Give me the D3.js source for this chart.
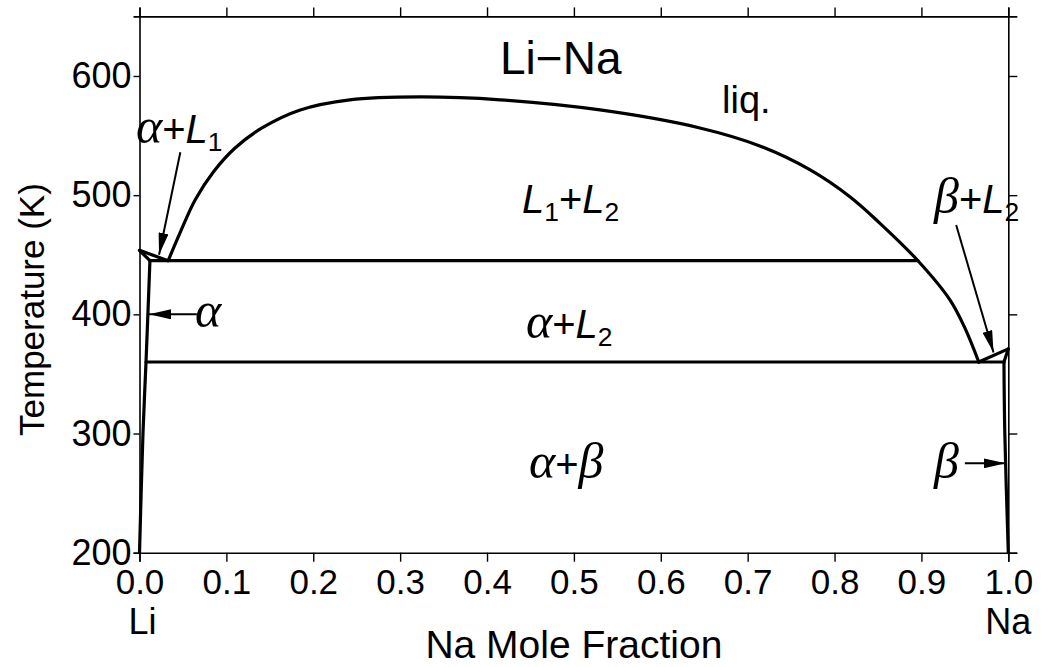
<!DOCTYPE html>
<html>
<head>
<meta charset="utf-8">
<script src="https://cdn.jsdelivr.net/npm/d3@7"></script>
<style>
  html, body { margin: 0; padding: 0; background: #fff; }
  svg { display: block; }
  .sans { font-family: "Liberation Sans", Arial, Helvetica, sans-serif; }
  .greek { font-family: "Liberation Serif", "Times New Roman", serif; font-style: italic; }
</style>
</head>
<body>
<svg id="chart" width="1042" height="667"></svg>
<script>
// Li–Na binary phase diagram (temperature vs. Na mole fraction)

// Axis ticks
const xTicks = [0.0, 0.1, 0.2, 0.3, 0.4, 0.5, 0.6, 0.7, 0.8, 0.9, 1.0];
const yTicks = [200, 300, 400, 500, 600];
const xDomain = [0, 1];
const yDomain = [200, 650];

// Invariant temperatures (K)
const liMeltT = 453.7;
const naMeltT = 371;
const monotecticT = 445;
const eutecticT = 360;

// Liquid miscibility gap + Na-rich liquidus (x = Na fraction, T in K)
const liquidusX = [0.033, 0.047, 0.064, 0.085, 0.110, 0.141, 0.185, 0.242, 0.323, 0.415, 0.530, 0.645, 0.714, 0.772, 0.818, 0.852, 0.896, 0.933, 0.950, 0.966];
const liquidusT = [445, 469, 496, 519.5, 539.6, 556.4, 571.5, 580, 582.4, 580, 571.5, 556.4, 541.3, 521.2, 498.5, 476.6, 445, 412, 388.6, 360];

// Li-rich (alpha) solid solution boundary
const alphaX = [0.0, 0.012, 0.0075, 0.004, 0.0];
const alphaT = [liMeltT, monotecticT, eutecticT, 300, 200];

// Na-rich (beta) solid solution boundary
const betaX = [1.0, 0.995, 0.996, 1.0];
const betaT = [naMeltT, eutecticT, 300, 200];

const svg = d3.select("#chart");
const W = 1042, H = 667;
const margin = { left: 139.5, right: 33.7, top: 16.4, bottom: 114.3 };

const x = d3.scaleLinear().domain(xDomain).range([margin.left, W - margin.right]);
const y = d3.scaleLinear().domain(yDomain).range([H - margin.bottom, margin.top]);

const zip = (xs, ts) => xs.map((v, i) => [v, ts[i]]);
const line = d3.line().x(d => x(d[0])).y(d => y(d[1]));
const smooth = d3.line().x(d => x(d[0])).y(d => y(d[1])).curve(d3.curveCatmullRom.alpha(0.5));

// Axes
const axisStyle = g => {
  g.select(".domain").attr("stroke", "#000").attr("stroke-width", 1.6);
  g.selectAll(".tick line").attr("stroke", "#000").attr("stroke-width", 1.4);
  g.selectAll(".tick text").attr("fill", "#000").attr("class", "sans").attr("font-size", 36);
};

svg.append("g")
  .attr("transform", `translate(0,${y(200)})`)
  .call(d3.axisBottom(x).tickValues(xTicks).tickFormat(d3.format(".1f")).tickSizeOuter(0).tickSize(9).tickPadding(7))
  .call(axisStyle)
  .call(g => g.selectAll(".tick text").attr("font-size", 35));

svg.append("g")
  .attr("transform", `translate(0,${y(650)})`)
  .call(d3.axisTop(x).tickValues(xTicks).tickFormat("").tickSizeOuter(0).tickSize(9))
  .call(axisStyle);

svg.append("g")
  .attr("transform", `translate(${x(0)},0)`)
  .call(d3.axisLeft(y).tickValues(yTicks).tickFormat(d3.format("d")).tickSizeOuter(0).tickSize(6).tickPadding(2))
  .call(axisStyle);

svg.append("g")
  .attr("transform", `translate(${x(1)},0)`)
  .call(d3.axisRight(y).tickValues(yTicks).tickFormat("").tickSizeOuter(0).tickSize(9))
  .call(axisStyle);

// Phase boundaries
const phase = svg.append("g")
  .attr("fill", "none").attr("stroke", "#000").attr("stroke-width", 3.2)
  .attr("stroke-linejoin", "round").attr("stroke-linecap", "round");

phase.append("path").attr("d", smooth(zip(liquidusX, liquidusT)));
// Li-rich liquidus from Li melting point to the monotectic liquid
phase.append("path").attr("d", line([[0, liMeltT], [liquidusX[0], monotecticT]]));
// alpha solidus and solvus
phase.append("path").attr("d", line([[0, liMeltT], [alphaX[1], alphaT[1]]]));
phase.append("path").attr("d", smooth(zip(alphaX.slice(1), alphaT.slice(1))));
// Na-rich liquidus and beta boundaries
phase.append("path").attr("d", line([[liquidusX[liquidusX.length - 1], eutecticT], [1, naMeltT]]));
phase.append("path").attr("d", line([[1, naMeltT], [betaX[1], eutecticT]]));
phase.append("path").attr("d", smooth(zip(betaX.slice(1), betaT.slice(1))));
// Monotectic and eutectic isotherms
phase.append("path").attr("d", line([[alphaX[1], monotecticT], [0.896, monotecticT]]));
phase.append("path").attr("d", line([[alphaX[2], eutecticT], [betaX[1], eutecticT]]));

// Arrow marker
svg.append("defs").append("marker")
  .attr("id", "head").attr("viewBox", "0 0 22 10")
  .attr("refX", 22).attr("refY", 5)
  .attr("markerWidth", 22).attr("markerHeight", 10)
  .attr("markerUnits", "userSpaceOnUse").attr("orient", "auto")
  .append("path").attr("d", "M0,0 L22,5 L0,10 Z").attr("fill", "#000");

const arrow = (x1, y1, x2, y2) => svg.append("line")
  .attr("x1", x1).attr("y1", y1).attr("x2", x2).attr("y2", y2)
  .attr("stroke", "#000").attr("stroke-width", 2).attr("marker-end", "url(#head)");

arrow(x(0.047), y(536), x(0.0225), y(450));  // to alpha + L1 sliver
arrow(x(0.066), y(400), x(0.011), y(400));   // to alpha
arrow(x(0.94), y(475), x(0.983), y(368));    // to beta + L2 sliver
arrow(x(0.95), y(275), x(0.997), y(275));    // to beta

// Region labels built from pieces: [text, kind]
function label(px, py, parts, size) {
  const t = svg.append("text").attr("x", px).attr("y", py).attr("font-size", size).attr("fill", "#000");
  parts.forEach(([s, kind]) => {
    const sp = t.append("tspan").text(s);
    if (kind === "g") sp.attr("class", "greek").attr("font-size", size * 1.25);
    else if (kind === "i") sp.attr("class", "sans").attr("font-style", "italic");
    else if (kind === "sub") sp.attr("class", "sans").attr("font-size", size * 0.66).attr("dy", size * 0.2);
    else if (kind === "up") sp.attr("class", "sans").attr("dy", -size * 0.2);
    else sp.attr("class", "sans");
  });
  return t;
}

label(500, 74, [["Li\u2212Na", "n"]], 46);
label(722, 113, [["liq.", "n"]], 38);
label(136, 143, [["\u03b1", "g"], ["+", "n"], ["L", "i"], ["1", "sub"]], 40);
label(522, 213, [["L", "i"], ["1", "sub"], ["+", "up"], ["L", "i"], ["2", "sub"]], 40);
label(934, 213, [["\u03b2", "g"], ["+", "n"], ["L", "i"], ["2", "sub"]], 40);
label(195, 327, [["\u03b1", "g"]], 40);
label(526, 338, [["\u03b1", "g"], ["+", "n"], ["L", "i"], ["2", "sub"]], 40);
label(529, 478, [["\u03b1", "g"], ["+", "n"], ["\u03b2", "g"]], 40);
label(934, 478, [["\u03b2", "g"]], 40);

// Element labels at the ends of the composition axis
svg.append("text").attr("class", "sans").attr("x", x(0) + 3).attr("y", 634)
  .attr("text-anchor", "middle").attr("font-size", 36).text("Li");
svg.append("text").attr("class", "sans").attr("x", x(1)).attr("y", 634)
  .attr("text-anchor", "middle").attr("font-size", 36).text("Na");

// Axis titles
svg.append("text").attr("class", "sans").attr("x", (x(0) + x(1)) / 2).attr("y", 658)
  .attr("text-anchor", "middle").attr("font-size", 39).text("Na Mole Fraction");
svg.append("text").attr("class", "sans")
  .attr("transform", `translate(44,${(y(200) + y(650)) / 2 + 25}) rotate(-90)`)
  .attr("text-anchor", "middle").attr("font-size", 35).text("Temperature (K)");
</script>
</body>
</html>
